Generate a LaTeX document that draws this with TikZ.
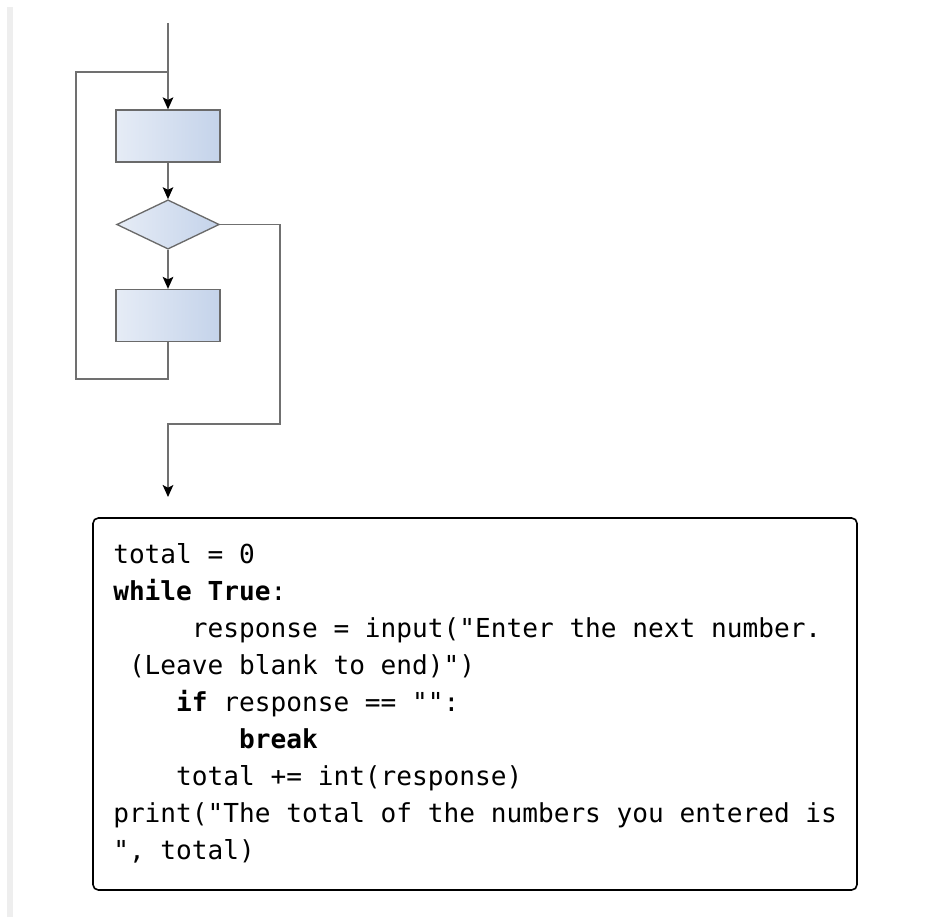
\documentclass[tikz,border=0pt]{standalone}
\usepackage{fontspec}
\setmonofont{DejaVu Sans Mono}
\usetikzlibrary{shapes.geometric, arrows.meta}

\definecolor{wiregray}{HTML}{707070}
\definecolor{boxgray}{HTML}{6A6A6A}
\definecolor{boxleft}{HTML}{E6ECF6}
\definecolor{boxright}{HTML}{C4D3EA}
\definecolor{bargray}{HTML}{EEEEEE}

\tikzset{
	wire/.style={draw=wiregray, line width=1pt},
	flow/.style={wire, arrows={-{Stealth[length=9pt, width=8pt, inset=2pt, color=black]}}},
	proc/.style={draw=boxgray, line width=1pt, left color=boxleft, right color=boxright,
		minimum width=78pt, minimum height=39pt, inner sep=0pt},
	test/.style={diamond, draw=boxgray, line width=1pt, left color=boxleft, right color=boxright,
		minimum width=77pt, minimum height=37pt, inner sep=0pt},
	frame/.style={draw=black, line width=1.2pt, rounded corners=4pt,
		minimum width=573pt, minimum height=279pt, inner sep=0pt},
	codeline/.style={anchor=base west, inner sep=0pt,
		font=\ttfamily\fontsize{19.6pt}{27.75pt}\selectfont}
}

\begin{document}
\begin{tikzpicture}[x=0.75pt, y=-0.75pt]
	\useasboundingbox (0,0) rectangle (934,917);
	\fill [bargray] (7,7) rectangle (13,917);

	\coordinate (top) at (168,23);
	\coordinate (join) at (168,72);
	\coordinate (turn) at (280,424);
	\coordinate (out) at (168,497);

	\node [proc] (body) at (168,136) {};
	\node [test] (cond) at (168,224.5) {};
	\node [proc] (step) at (168,315.5) {};

	\draw [flow] (top) -- (body.north);
	\draw [flow] (body.south) -- (cond.north);
	\draw [flow] (cond.south) -- (step.north);
	\draw [wire] (step.south) |- (76,379) |- (join);
	\draw [flow] (cond.east) -| (turn) -| (out);

	% listing below the chart
	\node [frame] (listing) at (475,704) {};
	\foreach \txt [count=\i from 0] in {
		{total = 0},
		{\textbf{while True}:},
		{\phantom{xxxxx}response = input("Enter the next number.},
		{\phantom{x}(Leave blank to end)")},
		{\phantom{xxxx}\textbf{if} response == "":},
		{\phantom{xxxxxxxx}\textbf{break}},
		{\phantom{xxxx}total += int(response)},
		{print("The total of the numbers you entered is},
		{", total)}}
		\node [codeline] (ln\i) at (113, 563+37*\i) {\txt};
\end{tikzpicture}
\end{document}
